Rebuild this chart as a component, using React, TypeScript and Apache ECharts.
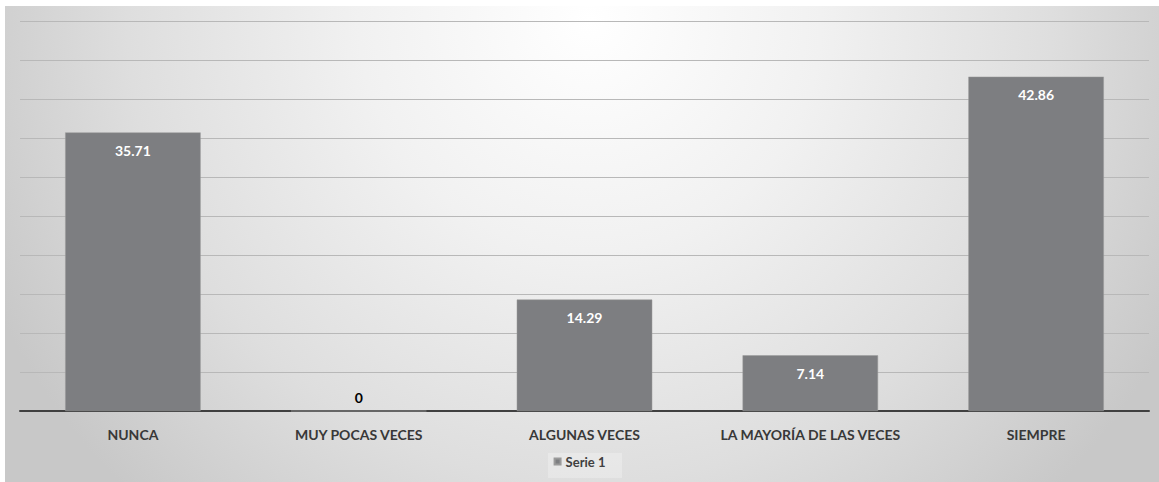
import React, { useEffect, useRef } from "react";
import * as echarts from "echarts";

const categories = ["NUNCA", "MUY POCAS VECES", "ALGUNAS VECES", "LA MAYORÍA DE LAS VECES", "SIEMPRE"];
const values = [35.71, 0, 14.29, 7.14, 42.86];
const seriesName = "Serie 1";

export default function App() {
  const ref = useRef<HTMLDivElement>(null);
  useEffect(() => {
    const chart = echarts.init(ref.current!, undefined, { renderer: "svg" });
    chart.setOption({
      animation: false,
      backgroundColor: "#ffffff",
      graphic: [
        {
          type: "rect",
          z: -10,
          silent: true,
          shape: { x: 5, y: 6, width: 1154, height: 476 },
          style: {
            fill: {
              type: "radial",
              global: true,
              x: 590,
              y: 20,
              r: 660,
              colorStops: [
                { offset: 0, color: "#ffffff" },
                { offset: 0.35, color: "#f1f1f1" },
                { offset: 0.7, color: "#dedede" },
                { offset: 1, color: "#c8c8c8" },
              ],
            },
          },
        },
        {
          type: "rect",
          z: -5,
          silent: true,
          shape: { x: 548, y: 453, width: 74, height: 25 },
          style: { fill: "rgba(255,255,255,0.25)" },
        },
      ],
      legend: {
        bottom: 9,
        left: "center",
        itemWidth: 6,
        itemHeight: 6,
        itemGap: 5,
        icon: "rect",
        textStyle: { fontFamily: "Lato", fontWeight: "bold", fontSize: 13, color: "#404040" },
        data: [seriesName],
      },
      grid: { left: 20, right: 10, top: 21, bottom: 71, containLabel: false },
      xAxis: {
        type: "category",
        data: categories,
        axisLine: { lineStyle: { color: "#404040", width: 2 } },
        axisTick: { show: false },
        axisLabel: {
          fontFamily: "Lato",
          fontWeight: "bold",
          fontSize: 14,
          color: "#383838",
          margin: 16,
          interval: 0,
        },
      },
      yAxis: {
        type: "value",
        min: 0,
        max: 50,
        interval: 5,
        axisLabel: { show: false },
        axisLine: { show: false },
        axisTick: { show: false },
        splitLine: { lineStyle: { color: "#b8b8b8", width: 1 } },
      },
      series: [
        {
          name: seriesName,
          type: "bar",
          barWidth: "60%",
          itemStyle: { color: "#7d7e81", borderColor: "#9a9a9a", borderWidth: 0.5 },
          label: {
            show: true,
            position: "insideTop",
            distance: 11,
            color: "#ffffff",
            fontFamily: "Lato",
            fontWeight: "bold",
            fontSize: 14,
          },
          data: values.map((v) =>
            v === 0
              ? { value: v, label: { position: "top", distance: 6, color: "#000000" } }
              : { value: v }
          ),
        },
      ],
    });
    return () => chart.dispose();
  }, []);
  return (
    <div
      ref={ref}
      style={{ position: "absolute", left: 0, top: 0, width: 1159, height: 482 }}
    />
  );
}
